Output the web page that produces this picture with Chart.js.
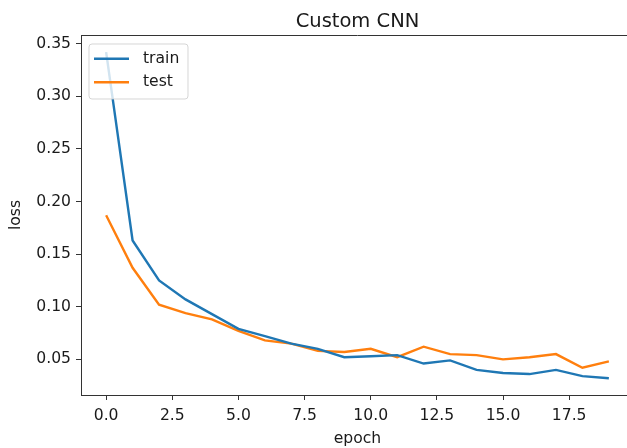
<!DOCTYPE html>
<html>
<head>
<meta charset="utf-8">
<script src="https://cdn.jsdelivr.net/npm/chart.js@4/dist/chart.umd.min.js"></script>
<style>
  html, body { margin: 0; padding: 0; background: #fff; overflow: hidden; }
  #wrap { width: 627px; height: 448px; overflow: hidden; position: relative; }
  canvas { display: block; }
</style>
</head>
<body>
<div id="wrap"><canvas id="c" width="645" height="448"></canvas></div>
<script>
const epochs = [0,1,2,3,4,5,6,7,8,9,10,11,12,13,14,15,16,17,18,19];
const trainLoss = [0.342,0.163,0.125,0.107,0.093,0.079,0.072,0.065,0.060,0.052,0.053,0.054,0.046,0.049,0.040,0.037,0.036,0.040,0.034,0.032];
const testLoss  = [0.187,0.137,0.102,0.094,0.088,0.077,0.068,0.065,0.058,0.057,0.060,0.052,0.062,0.055,0.054,0.050,0.052,0.055,0.042,0.048];
const xTickValues = [0,2.5,5,7.5,10,12.5,15,17.5];
const xTickLabels = ['0.0','2.5','5.0','7.5','10.0','12.5','15.0','17.5'];
const yTickValues = [0.05,0.10,0.15,0.20,0.25,0.30,0.35];
const yTickLabels = ['0.05','0.10','0.15','0.20','0.25','0.30','0.35'];
const seriesLabels = ['train','test'];
const seriesColors = ['#1f77b4','#ff7f0e'];
const titleText = 'Custom CNN';
const xTitle = 'epoch';
const yTitle = 'loss';

const FONT = 'DejaVu Sans';
const TXT = '#1a1a1a';
const SPINE = '#333333';
const FS = 15.6;

const toPts = vals => epochs.map((e,i)=>({x:e, y:vals[i]}));

const topSpine = {
  id: 'topSpine',
  afterDraw(chart) {
    const {ctx, chartArea:a} = chart;
    ctx.save();
    ctx.strokeStyle = SPINE;
    ctx.lineWidth = 1;
    ctx.beginPath();
    ctx.moveTo(a.left, a.top + 0.5);
    ctx.lineTo(a.right, a.top + 0.5);
    ctx.stroke();
    ctx.restore();
  }
};

const customLegend = {
  id: 'customLegend',
  afterDatasetsDraw(chart) {
    const {ctx} = chart;
    const x0 = 89, y0 = 44, w = 99, h = 55, r = 3;
    ctx.save();
    ctx.beginPath();
    ctx.moveTo(x0+r, y0);
    ctx.lineTo(x0+w-r, y0); ctx.arcTo(x0+w, y0, x0+w, y0+r, r);
    ctx.lineTo(x0+w, y0+h-r); ctx.arcTo(x0+w, y0+h, x0+w-r, y0+h, r);
    ctx.lineTo(x0+r, y0+h); ctx.arcTo(x0, y0+h, x0, y0+h-r, r);
    ctx.lineTo(x0, y0+r); ctx.arcTo(x0, y0, x0+r, y0, r);
    ctx.closePath();
    ctx.fillStyle = 'rgba(255,255,255,0.8)';
    ctx.fill();
    ctx.strokeStyle = 'rgba(204,204,204,0.8)';
    ctx.lineWidth = 1;
    ctx.stroke();
    chart.data.datasets.forEach((ds, i) => {
      const y = 58.7 + i * 23.6;
      ctx.strokeStyle = ds.borderColor;
      ctx.lineWidth = 2.4;
      ctx.beginPath();
      ctx.moveTo(94, y);
      ctx.lineTo(129, y);
      ctx.stroke();
      ctx.fillStyle = TXT;
      ctx.font = FS + 'px "' + FONT + '"';
      ctx.textBaseline = 'middle';
      ctx.textAlign = 'left';
      ctx.fillText(ds.label, 143, y);
    });
    ctx.restore();
  }
};

new Chart(document.getElementById('c'), {
  type: 'line',
  data: {
    datasets: [
      { label: seriesLabels[0], data: toPts(trainLoss), borderColor: seriesColors[0], backgroundColor: seriesColors[0], borderWidth: 2.4, pointRadius: 0, tension: 0 },
      { label: seriesLabels[1], data: toPts(testLoss), borderColor: seriesColors[1], backgroundColor: seriesColors[1], borderWidth: 2.4, pointRadius: 0, tension: 0 }
    ]
  },
  options: {
    responsive: false,
    animation: false,
    layout: { padding: { left: 0, right: 11, top: 0, bottom: 0 } },
    plugins: {
      legend: { display: false },
      tooltip: { enabled: false },
      title: {
        display: true, text: titleText, fullSize: false, color: TXT,
        font: { family: FONT, size: 19.5, weight: 'normal', lineHeight: 1.2 },
        padding: { top: 10, bottom: 1.6 }
      }
    },
    scales: {
      x: {
        type: 'linear', min: -0.95, max: 19.95,
        afterBuildTicks: s => { s.ticks = xTickValues.map(v => ({value: v})); },
        afterFit: s => { s.height = 53; },
        ticks: { callback: (v) => xTickLabels[xTickValues.indexOf(v)], color: TXT, font: { family: FONT, size: FS }, padding: 7, maxRotation: 0, autoSkip: false },
        grid: { display: true, drawOnChartArea: false, drawTicks: true, tickLength: 5, color: SPINE, lineWidth: 1 },
        border: { display: true, color: SPINE, width: 1 },
        title: { display: true, text: xTitle, color: TXT, font: { family: FONT, size: FS, lineHeight: 1.2 }, padding: { top: 0, bottom: 0 } }
      },
      y: {
        type: 'linear', min: 0.0161, max: 0.3583,
        afterBuildTicks: s => { s.ticks = yTickValues.map(v => ({value: v})); },
        afterFit: s => { s.width = 81; },
        ticks: { callback: (v) => yTickLabels[yTickValues.findIndex(t => Math.abs(t - v) < 1e-9)], color: TXT, font: { family: FONT, size: FS }, padding: 5, autoSkip: false },
        grid: { display: true, drawOnChartArea: false, drawTicks: true, tickLength: 5, color: SPINE, lineWidth: 1 },
        border: { display: true, color: SPINE, width: 1 },
        title: { display: true, text: yTitle, color: TXT, font: { family: FONT, size: FS, lineHeight: 1.2 }, padding: { top: 7, bottom: 0 } }
      }
    }
  },
  plugins: [topSpine, customLegend]
});
</script>
</body>
</html>
